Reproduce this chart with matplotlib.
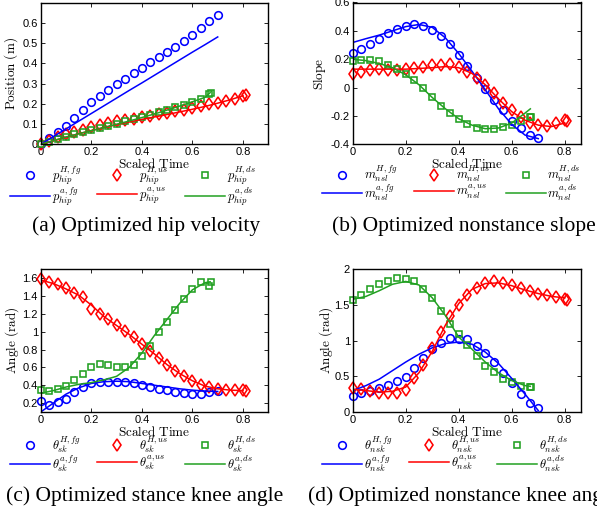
import matplotlib
matplotlib.use("Agg")
import matplotlib.pyplot as plt
from matplotlib.lines import Line2D
from matplotlib.ticker import FuncFormatter

# scaled-time samples of the human data (markers) for each gait
t_fg = [0.0, 0.033, 0.067, 0.1, 0.133, 0.167, 0.2, 0.233, 0.267, 0.3, 0.333,
        0.367, 0.4, 0.433, 0.467, 0.5, 0.533, 0.567, 0.6, 0.633, 0.667, 0.7]
t_us = [0.0, 0.033, 0.067, 0.1, 0.133, 0.167, 0.2, 0.233, 0.267, 0.3, 0.333,
        0.367, 0.4, 0.433, 0.467, 0.5, 0.533, 0.567, 0.6, 0.633, 0.667, 0.7,
        0.733, 0.767, 0.8, 0.81]
t_ds = [0.0, 0.033, 0.067, 0.1, 0.133, 0.167, 0.2, 0.233, 0.267, 0.3, 0.333,
        0.367, 0.4, 0.433, 0.467, 0.5, 0.533, 0.567, 0.6, 0.633, 0.667, 0.673]

# scaled-time samples of the optimized (a) curves
tl_fg = [0.0, 0.05, 0.1, 0.15, 0.2, 0.25, 0.3, 0.35, 0.4, 0.45, 0.5, 0.55, 0.6, 0.65, 0.7]
tl_us = [0.0, 0.05, 0.1, 0.15, 0.2, 0.25, 0.3, 0.35, 0.4, 0.45, 0.5, 0.55, 0.6, 0.65,
         0.7, 0.75, 0.8]
tl_ds = [0.0, 0.05, 0.1, 0.15, 0.2, 0.25, 0.3, 0.35, 0.4, 0.45, 0.5, 0.55, 0.6, 0.65, 0.67]

# (a) hip position
hip_fg_H = [0.0, 0.033, 0.06, 0.09, 0.128, 0.169, 0.21, 0.24, 0.268, 0.296, 0.322,
            0.35, 0.378, 0.404, 0.432, 0.457, 0.482, 0.511, 0.539, 0.572, 0.608, 0.638]
hip_us_H = [0.0, 0.018, 0.035, 0.05, 0.062, 0.072, 0.083, 0.093, 0.104, 0.114, 0.12,
            0.127, 0.135, 0.142, 0.148, 0.155, 0.163, 0.171, 0.179, 0.188, 0.197,
            0.206, 0.215, 0.226, 0.238, 0.245]
hip_ds_H = [0.0, 0.012, 0.025, 0.038, 0.05, 0.06, 0.071, 0.081, 0.092, 0.102, 0.113,
            0.124, 0.135, 0.146, 0.158, 0.17, 0.183, 0.196, 0.21, 0.226, 0.248, 0.255]
hip_fg_A = [0.0, 0.038, 0.076, 0.114, 0.152, 0.19, 0.228, 0.266, 0.303, 0.341, 0.379,
            0.417, 0.455, 0.492, 0.53]
hip_us_A = [0.0, 0.018, 0.035, 0.052, 0.068, 0.083, 0.097, 0.11, 0.123, 0.135, 0.147,
            0.16, 0.173, 0.187, 0.203, 0.22, 0.24]
hip_ds_A = [0.0, 0.018, 0.036, 0.052, 0.067, 0.083, 0.099, 0.115, 0.132, 0.15, 0.169,
            0.189, 0.21, 0.232, 0.255]

# (b) nonstance slope
nsl_fg_H = [0.242, 0.27, 0.308, 0.344, 0.384, 0.416, 0.437, 0.447, 0.435, 0.407, 0.365,
            0.306, 0.23, 0.155, 0.07, -0.01, -0.087, -0.158, -0.233, -0.287, -0.334, -0.358]
nsl_us_H = [0.096, 0.113, 0.125, 0.13, 0.125, 0.125, 0.13, 0.136, 0.148, 0.158, 0.16,
            0.165, 0.148, 0.113, 0.066, 0.019, -0.04, -0.106, -0.158, -0.205, -0.247,
            -0.264, -0.27, -0.252, -0.228, -0.233]
nsl_ds_H = [0.184, 0.195, 0.195, 0.184, 0.16, 0.13, 0.096, 0.05, -0.005, -0.068, -0.13,
            -0.18, -0.224, -0.259, -0.282, -0.294, -0.294, -0.28, -0.264, -0.233, -0.205, -0.21]
nsl_fg_A = [0.318, 0.345, 0.37, 0.4, 0.43, 0.445, 0.425, 0.35, 0.24, 0.115, -0.015,
            -0.15, -0.26, -0.335, -0.36]
nsl_us_A = [0.13, 0.13, 0.13, 0.13, 0.13, 0.135, 0.14, 0.148, 0.14, 0.1, 0.02, -0.08,
            -0.17, -0.23, -0.265, -0.275, -0.25]
nsl_ds_A = [0.2, 0.19, 0.17, 0.14, 0.09, 0.02, -0.07, -0.15, -0.22, -0.265, -0.29,
            -0.285, -0.25, -0.18, -0.15]

# (c) stance knee angle
sk_fg_H = [0.223, 0.18, 0.21, 0.25, 0.325, 0.382, 0.42, 0.44, 0.44, 0.44, 0.44, 0.42,
           0.4, 0.38, 0.363, 0.344, 0.325, 0.314, 0.303, 0.306, 0.325, 0.333]
sk_us_H = [1.59, 1.56, 1.53, 1.49, 1.43, 1.385, 1.26, 1.2, 1.14, 1.075, 1.006, 0.938,
           0.866, 0.787, 0.704, 0.628, 0.56, 0.503, 0.446, 0.4, 0.375, 0.356, 0.344,
           0.344, 0.344, 0.34]
sk_ds_H = [0.35, 0.34, 0.355, 0.39, 0.46, 0.53, 0.61, 0.635, 0.625, 0.605, 0.6, 0.63,
           0.73, 0.84, 1.0, 1.11, 1.24, 1.37, 1.48, 1.56, 1.51, 1.56]
sk_fg_A = [0.1, 0.2, 0.3, 0.37, 0.42, 0.44, 0.445, 0.44, 0.42, 0.4, 0.38, 0.36, 0.345,
           0.335, 0.33]
sk_us_A = [1.58, 1.54, 1.48, 1.41, 1.3, 1.17, 1.07, 0.97, 0.86, 0.75, 0.63, 0.53, 0.45,
           0.39, 0.36, 0.345, 0.34]
sk_ds_A = [0.31, 0.34, 0.38, 0.41, 0.43, 0.46, 0.5, 0.6, 0.76, 0.96, 1.14, 1.32, 1.47,
           1.55, 1.56]

# (d) nonstance knee angle
nsk_fg_H = [0.227, 0.26, 0.29, 0.33, 0.378, 0.44, 0.497, 0.62, 0.76, 0.88, 0.97, 1.04,
            1.03, 1.02, 0.92, 0.83, 0.7, 0.55, 0.41, 0.25, 0.12, 0.05]
nsk_us_H = [0.33, 0.32, 0.3, 0.27, 0.26, 0.27, 0.31, 0.47, 0.66, 0.89, 1.12, 1.34, 1.5,
            1.64, 1.74, 1.81, 1.83, 1.81, 1.78, 1.74, 1.69, 1.65, 1.64, 1.61, 1.59, 1.57]
nsk_ds_H = [1.57, 1.645, 1.73, 1.79, 1.84, 1.88, 1.87, 1.83, 1.73, 1.6, 1.42, 1.24, 1.1,
            0.94, 0.785, 0.65, 0.56, 0.46, 0.42, 0.37, 0.345, 0.345]
nsk_fg_A = [0.3, 0.37, 0.46, 0.58, 0.7, 0.81, 0.9, 0.96, 0.98, 0.95, 0.84, 0.68, 0.47,
            0.25, 0.02]
nsk_us_A = [0.32, 0.3, 0.28, 0.29, 0.35, 0.55, 0.85, 1.22, 1.52, 1.72, 1.8, 1.81, 1.77,
            1.71, 1.66, 1.62, 1.6]
nsk_ds_A = [1.58, 1.62, 1.7, 1.79, 1.83, 1.78, 1.6, 1.35, 1.05, 0.88, 0.7, 0.55, 0.44,
            0.37, 0.36]

xticks = [0, 0.2, 0.4, 0.6, 0.8]

BLUE = "#0000ff"
RED = "#ff0000"
GREEN = "#22a022"

plt.rcParams["mathtext.fontset"] = "cm"
plt.rcParams["font.family"] = ["Liberation Sans", "DejaVu Sans"]

W, H = 597, 508
fig = plt.figure(figsize=(W / 100, H / 100), dpi=100)

MS_O, MS_D, MS_S, MEW = 5.5, 6.3, 4.6, 1.15


def px_rect(left, top, right, bottom):
    return [left / W, 1 - bottom / H, (right - left) / W, (bottom - top) / H]


def panel(rect, xmax, ylim, yticks, ylabel, ylab_dx, sym, sub,
          series, leg_xy, caption, cap_xy):
    ax = fig.add_axes(px_rect(*rect))
    (hfg, hus, hds, afg, aus, ads) = series
    mk = dict(ls="none", mfc="none", mew=MEW, clip_on=False)
    ax.plot(t_fg, hfg, marker="o", ms=MS_O, color=BLUE, **mk)
    ax.plot(t_us, hus, marker="d", ms=MS_D, color=RED, **mk)
    ax.plot(t_ds, hds, marker="s", ms=MS_S, color=GREEN, **mk)
    ax.plot(tl_fg, afg, color=BLUE, lw=1.1)
    ax.plot(tl_us, aus, color=RED, lw=1.1)
    ax.plot(tl_ds, ads, color=GREEN, lw=1.1)

    ax.set_xlim(0, xmax)
    ax.set_ylim(*ylim)
    ax.set_xticks(xticks)
    ax.set_yticks(yticks)
    fmt = FuncFormatter(lambda v, p: "%g" % round(v, 3))
    ax.xaxis.set_major_formatter(fmt)
    ax.yaxis.set_major_formatter(fmt)
    ax.tick_params(direction="in", top=True, right=True, length=3, width=0.6,
                   labelsize=8, pad=2)
    for s in ax.spines.values():
        s.set_linewidth(1.0)
    ax.set_xlabel(r"$\mathrm{Scaled\ Time}$", fontsize=9.5)
    ax.xaxis.set_label_coords(0.5, -0.09)
    ax.set_ylabel(ylabel, fontsize=9.5)
    ax.yaxis.set_label_coords(ylab_dx, 0.5)

    handles = [
        Line2D([], [], ls="none", marker="o", ms=MS_O, mfc="none", mew=MEW, color=BLUE),
        Line2D([], [], color=BLUE, lw=1.1),
        Line2D([], [], ls="none", marker="d", ms=MS_D, mfc="none", mew=MEW, color=RED),
        Line2D([], [], color=RED, lw=1.1),
        Line2D([], [], ls="none", marker="s", ms=MS_S, mfc="none", mew=MEW, color=GREEN),
        Line2D([], [], color=GREEN, lw=1.1),
    ]
    labels = []
    for g in ["fg", "us", "ds"]:
        labels.append(r"$%s_{%s}^{H,%s}$" % (sym, sub, g))
        labels.append(r"$%s_{%s}^{a,%s}$" % (sym, sub, g))
    fig.legend(handles, labels, ncol=3, loc="upper left",
               bbox_to_anchor=(leg_xy[0] / W, 1 - leg_xy[1] / H),
               frameon=False, fontsize=9, borderpad=0, borderaxespad=0,
               handlelength=3.2, handletextpad=0.15, columnspacing=1.3,
               labelspacing=-0.15)
    fig.text(cap_xy[0] / W, 1 - cap_xy[1] / H, caption, ha="center", va="center",
             fontsize=15.5, family="Liberation Serif")
    return ax


panel((40.7, 2.5, 268.3, 144.3), 0.9, (0, 0.7), [0, 0.1, 0.2, 0.3, 0.4, 0.5, 0.6],
      r"$\mathrm{Position\ (m)}$", -0.092, "p", "hip",
      (hip_fg_H, hip_us_H, hip_ds_H, hip_fg_A, hip_us_A, hip_ds_A),
      (10, 164), "(a) Optimized hip velocity", (146, 226))

panel((352.7, 2.5, 580.7, 144.3), 0.86, (-0.4, 0.6), [-0.4, -0.2, 0, 0.2, 0.4, 0.6],
      r"$\mathrm{Slope}$", -0.11, "m", "nsl",
      (nsl_fg_H, nsl_us_H, nsl_ds_H, nsl_fg_A, nsl_us_A, nsl_ds_A),
      (322, 164), "(b) Optimized nonstance slope", (463.5, 226))

panel((40.7, 269.3, 268.3, 412), 0.9, (0.1, 1.7),
      [0.2, 0.4, 0.6, 0.8, 1, 1.2, 1.4, 1.6],
      r"$\mathrm{Angle\ (rad)}$", -0.085, r"\theta", "sk",
      (sk_fg_H, sk_us_H, sk_ds_H, sk_fg_A, sk_us_A, sk_ds_A),
      (10, 434), "(c) Optimized stance knee angle", (145, 496))

panel((352.7, 269.3, 580.7, 412), 0.86, (0, 2), [0, 0.5, 1, 1.5, 2],
      r"$\mathrm{Angle\ (rad)}$", -0.078, r"\theta", "nsk",
      (nsk_fg_H, nsk_us_H, nsk_ds_H, nsk_fg_A, nsk_us_A, nsk_ds_A),
      (322, 434), "(d) Optimized nonstance knee angle", (463.5, 496))

fig.savefig("out.png", dpi=100)
